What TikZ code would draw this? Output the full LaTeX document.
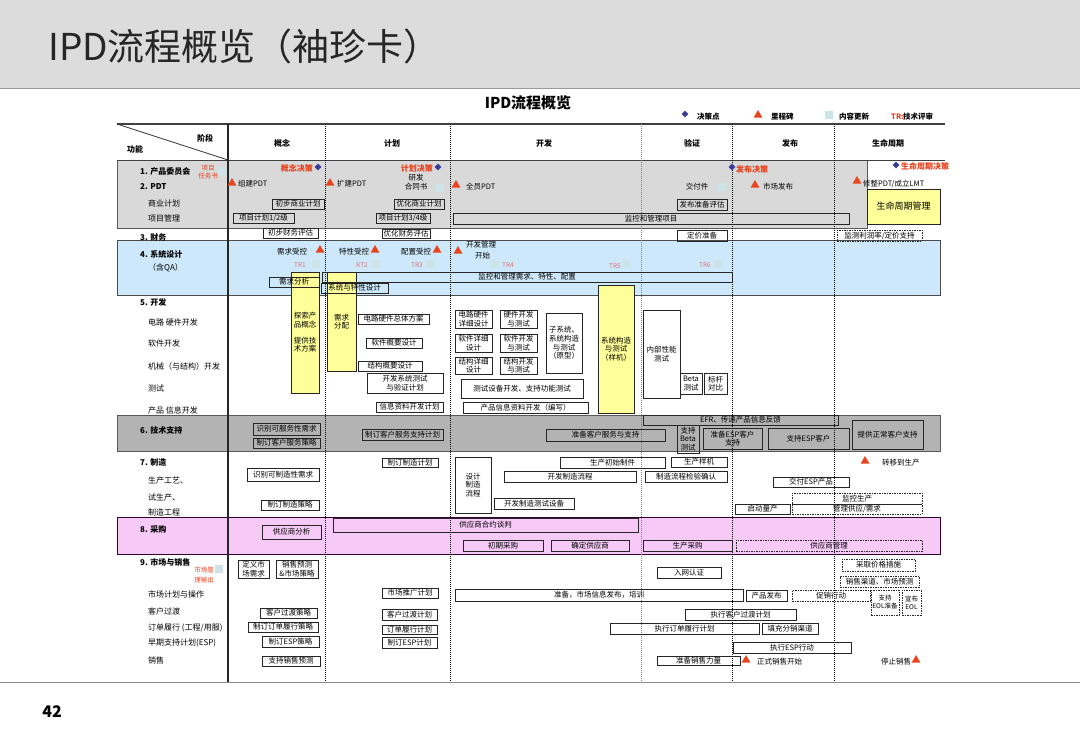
\documentclass[tikz,border=0pt]{standalone}
\usepackage{fontspec}
\setmainfont{Noto Sans CJK SC}
\usetikzlibrary{positioning,shapes.geometric}

\definecolor{topgray}{HTML}{DCDCDC}
\definecolor{bandgray}{HTML}{D9D9D9}
\definecolor{supgray}{HTML}{B3B3B3}
\definecolor{sysblue}{HTML}{CDE8FA}
\definecolor{buypink}{HTML}{F7C9F7}
\definecolor{ipdyellow}{HTML}{FFFF99}
\definecolor{milered}{HTML}{E8451E}
\definecolor{gateblue}{HTML}{3A3A9A}
\definecolor{gatered}{HTML}{E8401C}
\definecolor{updcyan}{HTML}{CDE4E6}
\definecolor{trpink}{HTML}{E07070}

\newcommand{\ts}{\fontsize{7.5}{8.6}\selectfont}
\newcommand{\ls}{\fontsize{8}{9}\selectfont}

\begin{document}
\begin{tikzpicture}[
    x=1pt, y=-1pt,
    font=\ts,
    box/.style={draw=black!85, line width=0.7pt, inner sep=0pt, align=center},
    dbox/.style={box, dash pattern=on 1.5pt off 1pt},
    ybox/.style={box, fill=ipdyellow},
    sz/.style 2 args={minimum width=#1, minimum height=#2},
    lbl/.style={anchor=west, inner sep=0pt},
    rowlbl/.style={lbl, font=\ls},
    num/.style={lbl, font=\ls\bfseries},
    mile/.style={regular polygon, regular polygon sides=3, fill=milered, inner sep=0pt, minimum size=10},
    gate/.style={diamond, fill=gateblue, inner sep=0pt, minimum size=7},
    upd/.style={fill=updcyan, inner sep=0pt, minimum size=8},
    gatetxt/.style={text=gatered, font=\fontsize{8}{9}\selectfont\bfseries, inner sep=0pt},
    trtxt/.style={text=trpink, font=\fontsize{6.5}{7}\selectfont, inner sep=0pt},
    band/.style={draw=black!65, line width=0.8pt},
    phase/.style={dash pattern=on 1pt off 1pt, line width=0.8pt}
]
    \useasboundingbox (0,0) rectangle (1080,747);

    % page frame
    \fill[topgray] (0,0) rectangle (1080,88);
    \draw[black!40, line width=0.8pt] (0,88) -- (1080,88);
    \draw[black!45, line width=1pt] (0,682) -- (1080,682);
    \node[anchor=west, inner sep=0pt, text=black!85, font=\fontsize{37}{39}\selectfont] (title) at (48,46) {IPD流程概览（袖珍卡）};
    \node[font=\fontsize{16}{18}\selectfont\bfseries] (pgno) at (52,712) {42};
    \node[font=\fontsize{15}{17}\selectfont\bfseries] (ipdt) at (528,103) {IPD流程概览};

    % legend
    \node[gate] (lg1) at (685,114) {};
    \node[lbl, font=\ts\bfseries] (lg1t) at (697,117) {决策点};
    \node[mile] (lg2) at (758,115) {};
    \node[lbl, font=\ts\bfseries] (lg2t) at (771,117) {里程碑};
    \node[upd] (lg3) at (829,115) {};
    \node[lbl, font=\ts\bfseries] (lg3t) at (839,117) {内容更新};
    \node[lbl, text=gatered, font=\ts\bfseries] (lg4) at (891,117) {TR:};
    \node[lbl, font=\ts\bfseries] (lg4t) at (903,117) {技术评审};

    % bands
    \filldraw[band, fill=bandgray] (117,160) rectangle (867,228);
    \filldraw[band, fill=sysblue, draw=black!70] (117,240) rectangle (940,295);
    \filldraw[band, fill=supgray] (117,415) rectangle (940,451);
    \filldraw[band, fill=buypink, draw=black!60!violet] (117,517) rectangle (940,554);

    % header
    \draw[black!75, line width=1.3pt] (117,124) -- (945,124);
    \draw[black!75, line width=1pt] (117,160) -- (945,160);
    \draw[black!80, line width=0.8pt] (117,124) -- (228,160);
    \node[font=\ls\bfseries] (hstage) at (205,138) {阶段};
    \node[font=\ls\bfseries] (hfunc) at (135,149) {功能};
    \node[font=\ls\bfseries] (p1) at (282,143) {概念};
    \node[font=\ls\bfseries] (p2) at (392,143) {计划};
    \node[font=\ls\bfseries] (p3) at (544,143) {开发};
    \node[font=\ls\bfseries] (p4) at (692,143) {验证};
    \node[font=\ls\bfseries] (p5) at (790,143) {发布};
    \node[font=\ls\bfseries] (p6) at (888,143) {生命周期};

    % phase lines
    \draw[black!85, line width=1.1pt] (228,124) -- (228,682);
    \foreach \px in {325,450,732,834}
        \draw[phase] (\px,124) -- (\px,682);
    \draw[phase, black!50] (641,124) -- (641,682);

    % row labels
    \node[num] (r1) at (140,171) {1. 产品委员会};
    \node[num] (r2) at (140,187) {2. PDT};
    \node[rowlbl] (r2a) at (148,203) {商业计划};
    \node[rowlbl] (r2b) at (148,218) {项目管理};
    \node[num] (r3) at (140,237) {3. 财务};
    \node[num] (r4) at (140,254) {4. 系统设计};
    \node[rowlbl] (r4a) at (148,268) {（含QA）};
    \node[num] (r5) at (140,302) {5. 开发};
    \node[rowlbl] (r5a) at (148,322) {电路 硬件开发};
    \node[rowlbl] (r5b) at (148,343) {软件开发};
    \node[rowlbl] (r5c) at (148,366) {机械（与结构）开发};
    \node[rowlbl] (r5d) at (148,388) {测试};
    \node[rowlbl] (r5e) at (148,410) {产品 信息开发};
    \node[num] (r6) at (140,430) {6. 技术支持};
    \node[num] (r7) at (140,462) {7. 制造};
    \node[rowlbl] (r7a) at (148,480) {生产工艺、};
    \node[rowlbl] (r7b) at (148,497) {试生产、};
    \node[rowlbl] (r7c) at (148,512) {制造工程};
    \node[num] (r8) at (140,529) {8. 采购};
    \node[num] (r9) at (140,562) {9. 市场与销售};
    \node[rowlbl] (r9a) at (148,594) {市场计划与操作};
    \node[rowlbl] (r9b) at (148,611) {客户过渡};
    \node[rowlbl] (r9c) at (148,628) {订单履行 (工程/用服)};
    \node[rowlbl] (r9d) at (148,643) {早期支持计划(ESP)};
    \node[rowlbl] (r9e) at (148,660) {销售};

    % rows 1-3
    \node[upd] (u0) at (222,171) {};
    \node[text=gatered, inner sep=0pt, align=center, font=\fontsize{6.5}{8.5}\selectfont] (charter) at (208,172) {项目\\任务书};
    \node[gatetxt, anchor=east] (g1t) at (313,168) {概念决策};
    \node[gate] (g1) at (318,167) {};
    \node[mile] (m1) at (232,183) {};
    \node[lbl] (m1t) at (238,184) {组建PDT};
    \node[mile] (m2) at (330,183) {};
    \node[lbl] (m2t) at (337,184) {扩建PDT};
    \node[gatetxt, anchor=east] (g2t) at (433,168) {计划决策};
    \node[gate] (g2) at (438,167) {};
    \node[inner sep=0pt, align=center] (contract) at (416,182) {研发\\合同书};
    \node[upd] (u1) at (440,188) {};
    \node[mile] (m3) at (456,185) {};
    \node[lbl] (m3t) at (466,187) {全员PDT};
    \node[inner sep=0pt] (deliv) at (697,187) {交付件};
    \node[upd] (u2) at (722,187) {};
    \node[gate] (g3) at (732,167) {};
    \node[gatetxt, anchor=west] (g3t) at (736,169) {发布决策};
    \node[mile] (m4) at (755,185) {};
    \node[lbl] (m4t) at (763,187) {市场发布};
    \node[gate] (g4) at (896,165) {};
    \node[gatetxt, anchor=west] (g4t) at (901,166) {生命周期决策};
    \node[mile] (m5) at (857,181) {};
    \node[lbl] (m5t) at (863,184) {修整PDT/成立LMT};

    \node[box, sz={52}{10}] (bp1) at (298,204) {初步商业计划};
    \node[box, sz={50}{10}] (bp2) at (419,204) {优化商业计划};
    \node[box, sz={50}{11}] (rel) at (702,204.5) {发布准备评估};
    \node[box, sz={61}{10}] (pm1) at (263.5,218) {项目计划1/2级};
    \node[box, sz={54}{10}] (pm2) at (403,218) {项目计划3/4级};
    \node[box, sz={396}{11}] (pmon) at (651,218.5) {监控和管理项目};
    \node[ybox, sz={73}{35}, font=\fontsize{9}{10}\selectfont] (lcm) at (903.5,206.5) {生命周期管理};
    \node[box, sz={55}{10}] (fin1) at (290.5,233) {初步财务评估};
    \node[box, sz={48}{9}] (fin2) at (406,233.5) {优化财务评估};
    \node[box, sz={50}{11}] (price) at (702,235.5) {定价准备};
    \node[dbox, sz={85}{11}] (mon) at (879.5,235.5) {监测利润率/定价支持};

    % row 4 system design
    \node[lbl] (c1) at (277,252) {需求受控};
    \node[mile] (m6) at (320,250) {};
    \node[lbl] (c2) at (339,252) {特性受控};
    \node[mile] (m7) at (375,250) {};
    \node[lbl] (c3) at (401,252) {配置受控};
    \node[mile] (m8) at (437,250) {};
    \node[mile] (m9) at (458,251) {};
    \node[lbl] (c4) at (466,245) {开发管理};
    \node[lbl] (c4b) at (475,256) {开始};
    \node[trtxt] (tr1) at (300,265) {TR1};
    \node[upd] (u3) at (316,264) {};
    \node[trtxt] (tr2) at (362,265) {RT2};
    \node[upd] (u4) at (376,264) {};
    \node[trtxt] (tr3) at (417,265) {TR3};
    \node[upd] (u5) at (430,264) {};
    \node[upd] (u6) at (495,264) {};
    \node[trtxt] (tr4) at (508,265) {TR4};
    \node[trtxt] (tr5) at (615,266) {TR5};
    \node[upd] (u7) at (626,263) {};
    \node[trtxt] (tr6) at (705,265) {TR6};
    \node[upd] (u8) at (718,264) {};

    \node[ybox, sz={28}{121}] (y1) at (305,332.5) {探索产\\品概念\\[7pt]提供技\\术方案};
    \node[ybox, sz={29}{99}] (y2) at (341.5,321.5) {需求\\分配};
    \node[ybox, sz={36}{128}] (y3) at (616,349) {系统构造\\与测试\\（样机）};
    \node[box, sz={410}{10}] (cfg) at (527,277) {监控和管理需求、特性、配置};
    \node[box, sz={50}{10}] (req) at (294,282) {需求分析};
    \node[box, sz={67}{10}] (sysd) at (354.5,288) {系统与特性设计};

    % row 5 development
    \node[box, sz={71}{10}] (hw0) at (393.5,319) {电路硬件总体方案};
    \node[box, sz={56}{10}] (sw0) at (394,343) {软件概要设计};
    \node[box, sz={64}{10}] (me0) at (390,366) {结构概要设计};
    \node[box, sz={76}{20}] (tp) at (405,383) {开发系统测试\\与验证计划};
    \node[box, sz={67}{10}] (ip) at (409.5,407) {信息资料开发计划};
    \node[box, sz={37}{18}] (hw1) at (473.5,319) {电路硬件\\详细设计};
    \node[box, sz={37}{18}] (hw2) at (518.5,319) {硬件开发\\与测试};
    \node[box, sz={37}{18}] (sw1) at (473.5,343) {软件详细\\设计};
    \node[box, sz={37}{18}] (sw2) at (518.5,343) {软件开发\\与测试};
    \node[box, sz={37}{17}] (me1) at (473.5,365.5) {结构详细\\设计};
    \node[box, sz={37}{17}] (me2) at (518.5,365.5) {结构开发\\与测试};
    \node[box, sz={36}{60}] (sub) at (564,343) {子系统、\\系统构造\\与测试\\（原型）};
    \node[box, sz={122}{19}] (te) at (522,388.5) {测试设备开发、支持功能测试};
    \node[box, sz={125}{11}] (ip2) at (525.5,407.5) {产品信息资料开发（编写）};
    \node[box, sz={37}{88}] (it) at (661.5,354) {内部性能\\测试};
    \node[box, sz={22}{21}] (bt) at (691,383.5) {Beta\\测试};
    \node[box, sz={23}{21}] (bm) at (715.5,383.5) {标杆\\对比};

    % row 6 support
    \node[box, sz={67}{12}] (ts1) at (286.5,429) {识别可服务性需求};
    \node[box, sz={67}{10}] (ts2) at (286.5,443) {制订客户服务策略};
    \node[box, sz={81}{11}] (ts3) at (402.5,434.5) {制订客户服务支持计划};
    \node[box, sz={119}{12}] (ts4) at (605.5,435) {准备客户服务与支持};
    \node[box, sz={195}{10}] (efr) at (740.5,420) {EFR、传递产品信息反馈};
    \node[box, sz={22}{28}] (tsb) at (688,439) {支持\\Beta\\测试};
    \node[box, sz={59}{21}] (esp) at (732.5,438.5) {准备ESP客户\\支持};
    \node[box, sz={81}{21}] (espc) at (808.5,438.5) {支持ESP客户};
    \node[box, sz={71}{29}] (norm) at (887.5,434.5) {提供正常客户支持};

    % row 7 manufacturing
    \node[box, sz={72}{13}] (mf1) at (283,474.5) {识别可制造性需求};
    \node[box, sz={58}{10}] (mf2) at (290,505) {制订制造策略};
    \node[box, sz={56}{9}] (mf3) at (410,462.5) {制订制造计划};
    \node[box, sz={36}{56}] (mf4) at (473,485) {设计\\制造\\流程};
    \node[box, sz={105}{11}] (mf5) at (612.5,462.5) {生产初始制件};
    \node[box, sz={132}{11}] (mf6) at (570,476.5) {开发制造流程};
    \node[box, sz={80}{11}] (mf7) at (534,503.5) {开发制造测试设备};
    \node[box, sz={56}{10}] (mf8) at (699,462) {生产样机};
    \node[box, sz={82}{11}] (mf9) at (686,476.5) {制造流程检验确认};
    \node[box, sz={76}{10}] (mf10) at (811,482) {交付ESP产品};
    \node[box, sz={55}{10}] (mf11) at (762.5,509) {启动量产};
    \node[dbox, sz={130}{11}] (mf12) at (857,498.5) {监控生产};
    \node[dbox, sz={130}{10}] (mf13) at (857,509) {管理供应/需求};
    \node[mile] (m10) at (865,461) {};
    \node[lbl] (m10t) at (882,463) {转移到生产};

    % row 8 procurement
    \node[box, sz={59}{14}] (pu1) at (291.5,532) {供应商分析};
    \node[box, sz={305}{14}] (pu2) at (485.5,525) {供应商合约谈判};
    \node[box, sz={80}{11}] (pu3) at (503,545.5) {初期采购};
    \node[box, sz={78}{11}] (pu4) at (590,545.5) {确定供应商};
    \node[box, sz={89}{11}] (pu5) at (687.5,545.5) {生产采购};
    \node[dbox, sz={186}{11}] (pu6) at (829,545.5) {供应商管理};

    % row 9 marketing and sales
    \node[text=gatered, inner sep=0pt, align=center, font=\fontsize{6.5}{10}\selectfont] (mout) at (204,575) {市场管\\理输出};
    \node[upd] (u9) at (219,569) {};
    \node[box, sz={31}{18}] (mk1) at (253.5,569) {定义市\\场需求};
    \node[box, sz={42}{18}] (mk2) at (297,569) {销售预测\\\&市场策略};
    \node[box, sz={57}{10}] (mk3) at (288.5,613) {客户过渡策略};
    \node[box, sz={70}{10}] (mk4) at (283,627) {制订订单履行策略};
    \node[box, sz={57}{11}] (mk5) at (290.5,641.5) {制订ESP策略};
    \node[box, sz={58}{10}] (mk6) at (291,661) {支持销售预测};
    \node[box, sz={56}{10}] (mk7) at (410,593) {市场推广计划};
    \node[box, sz={55}{11}] (mk8) at (409.5,614.5) {客户过渡计划};
    \node[box, sz={55}{9}] (mk9) at (409.5,629.5) {订单履行计划};
    \node[box, sz={55}{11}] (mk10) at (409.5,642.5) {制订ESP计划};
    \node[box, sz={288}{12}] (mk11) at (599,595) {准备，市场信息发布，培训};
    \node[box, sz={64}{11}] (mk12) at (689,572.5) {入网认证};
    \node[box, sz={41}{11}] (mk13) at (766.5,595.5) {产品发布};
    \node[dbox, sz={78}{11}] (mk14) at (831,595.5) {促销行动};
    \node[dbox, sz={73}{12}] (mk15) at (878.5,565) {采取价格措施};
    \node[dbox, sz={79}{11}] (mk16) at (879.5,581.5) {销售渠道、市场预测};
    \node[dbox, sz={28}{25}, font=\fontsize{6.5}{8}\selectfont] (mk17) at (885,602.5) {支持\\EOL准备};
    \node[dbox, sz={19}{25}, font=\fontsize{6.5}{8}\selectfont] (mk18) at (911.5,602.5) {宣布\\EOL};
    \node[box, sz={111}{11}] (mk19) at (740.5,614.5) {执行客户过渡计划};
    \node[box, sz={149}{11}] (mk20) at (684.5,628.5) {执行订单履行计划};
    \node[box, sz={56}{11}] (mk21) at (790,628.5) {填充分销渠道};
    \node[box, sz={118}{11}] (mk22) at (792,647.5) {执行ESP行动};
    \node[box, sz={83}{9}] (mk23) at (698.5,660.5) {准备销售力量};
    \node[mile] (m11) at (746,660) {};
    \node[lbl] (m11t) at (757,662) {正式销售开始};
    \node[lbl] (m12t) at (881,662) {停止销售};
    \node[mile] (m12) at (916,660) {};
\end{tikzpicture}
\end{document}
